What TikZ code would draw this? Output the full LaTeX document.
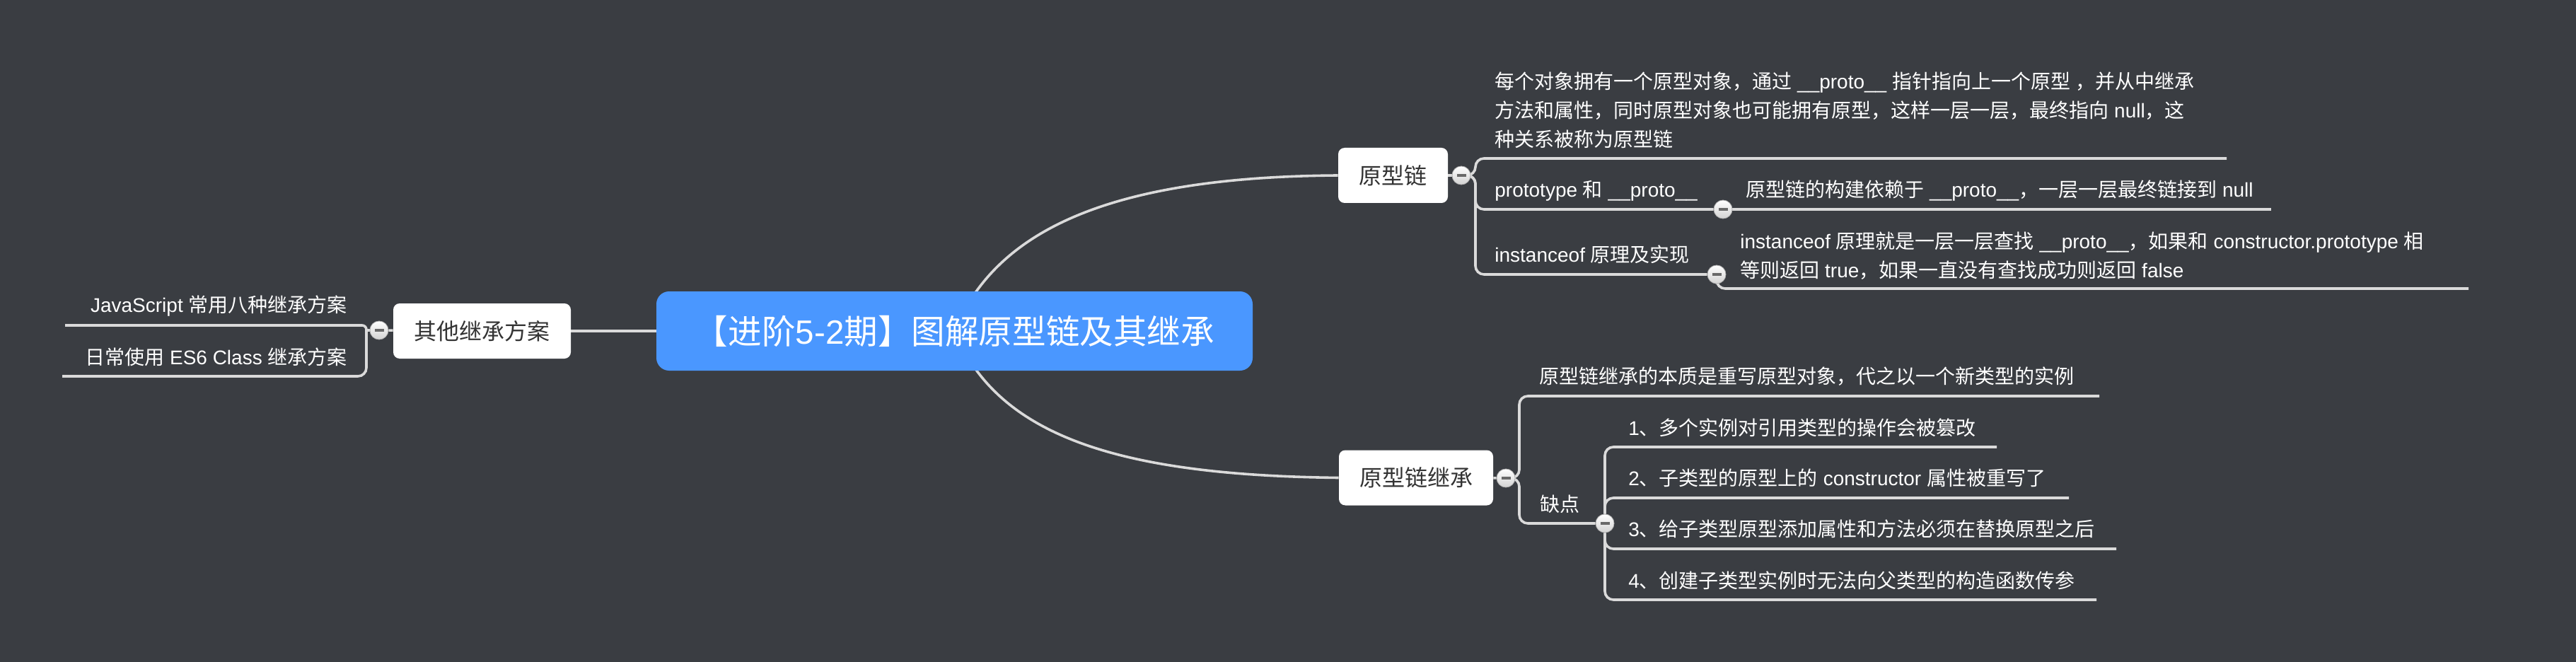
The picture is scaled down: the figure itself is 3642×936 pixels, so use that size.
\documentclass[tikz,border=0pt]{standalone}
\usepackage{fontspec}
\setmainfont{Liberation Sans}
\newfontfamily\cjkfont{Noto Sans CJK SC}
% switch to the CJK face for Chinese characters and punctuation
\XeTeXinterchartokenstate=1
\newcount\cjkcnt
\def\cjkrange#1#2{\cjkcnt=#1\relax
  \loop\XeTeXcharclass\cjkcnt=1\relax\advance\cjkcnt by 1\relax
  \ifnum\cjkcnt<#2\repeat}
\cjkrange{"3000}{"3040}
\cjkrange{"4E00}{"A000}
\cjkrange{"FF00}{"FFF0}
\XeTeXinterchartoks 0 1 = {\cjkfont}
\XeTeXinterchartoks 4095 1 = {\cjkfont}
\XeTeXinterchartoks 1 0 = {\rmfamily}
\XeTeXinterchartoks 1 4095 = {\rmfamily}

\definecolor{bgdark}{RGB}{58,61,66}
\definecolor{rootblue}{RGB}{74,151,255}
\definecolor{linegray}{RGB}{218,218,218}
\definecolor{boxtext}{RGB}{51,51,51}
\definecolor{minusgray}{RGB}{105,105,105}

\pgfdeclarelayer{bg}
\pgfdeclarelayer{lines}
\pgfsetlayers{bg,lines,main}

\tikzset{
  conn/.style={draw=linegray, line width=1.8pt, rounded corners=6pt},
  rootbox/.style={rectangle, rounded corners=9pt, fill=rootblue, text=white,
    minimum width=421.5pt, minimum height=56pt, inner sep=0pt,
    font=\fontsize{23.8pt}{28pt}\selectfont},
  topicbox/.style={rectangle, rounded corners=4.5pt, fill=white, text=boxtext,
    minimum height=39pt, inner sep=0pt, font=\fontsize{16pt}{20pt}\selectfont},
  leaf/.style={anchor=west, inner sep=0pt, text=white, align=left,
    font=\fontsize{14pt}{20.5pt}\selectfont},
  leafleft/.style={leaf, anchor=east, align=right},
  collapse/.style={circle, minimum size=13pt, inner sep=0pt,
    draw=gray!60, line width=0.4pt, top color=white, bottom color=gray!35,
    path picture={\fill[minusgray]
      ([xshift=-3.25pt,yshift=-0.85pt]path picture bounding box.center) rectangle
      ([xshift=3.25pt,yshift=0.85pt]path picture bounding box.center);}},
}

\begin{document}
\begin{tikzpicture}[x=0.5pt,y=0.5pt,yscale=-1,xscale=1]
\begin{pgfonlayer}{bg}
\fill[bgdark] (0,0) rectangle (3642,936);
\end{pgfonlayer}

% Topic boxes
\node[rootbox] (root) at (1349.5,468) {【进阶5-2期】图解原型链及其继承};
\node[topicbox, minimum width=77.5pt] (chain) at (1969.5,248) {原型链};
\node[topicbox, minimum width=109pt] (inherit) at (2002,675.5) {原型链继承};
\node[topicbox, minimum width=125.5pt] (other) at (681.5,468) {其他继承方案};

% Collapse buttons
\node[collapse] (chainc) at (2066,248) {};
\node[collapse] (inheritc) at (2129,676) {};
\node[collapse] (otherc) at (536,467) {};
\node[collapse] (ptc) at (2436,296) {};
\node[collapse] (ioc) at (2427,388) {};
\node[collapse] (flawc) at (2269,740) {};

% Text Node
\node[leaf] (desc) at (2113,156) {每个对象拥有一个原型对象，通过 \_\_proto\_\_ 指针指向上一个原型 ，并从中继承\\方法和属性，同时原型对象也可能拥有原型，这样一层一层，最终指向 null，这\\种关系被称为原型链};
\node[leaf] (pt) at (2113,270) {prototype 和 \_\_proto\_\_};
\node[leaf] (build) at (2468,270) {原型链的构建依赖于 \_\_proto\_\_，一层一层最终链接到 null};
\node[leaf] (io) at (2113,360) {instanceof 原理及实现};
\node[leaf] (iod) at (2460,362) {instanceof 原理就是一层一层查找 \_\_proto\_\_，如果和 constructor.prototype 相\\等则返回 true，如果一直没有查找成功则返回 false};
% Text Node
\node[leaf] (ess) at (2176,532) {原型链继承的本质是重写原型对象，代之以一个新类型的实例};
\node[leaf] (flaw) at (2177,713) {缺点};
\node[leaf] (f1) at (2302,605) {1、多个实例对引用类型的操作会被篡改};
\node[leaf] (f2) at (2302,676) {2、子类型的原型上的 constructor 属性被重写了};
\node[leaf] (f3) at (2302,748) {3、给子类型原型添加属性和方法必须在替换原型之后};
\node[leaf] (f4) at (2302,821) {4、创建子类型实例时无法向父类型的构造函数传参};
% Text Node
\node[leafleft] (js) at (491,433) {JavaScript 常用八种继承方案};
\node[leafleft] (es6) at (491,505) {日常使用 ES6 Class 继承方案};

% Trunks and underline ends
\coordinate (chaint) at (2086,248);
\coordinate (inheritt) at (2148,676);
\coordinate (othert) at (518,467);
\coordinate (descu) at (3148,224);
\coordinate (buildu) at (3211,296);
\coordinate (iodu) at (3490,408);
\coordinate (essu) at (2968,560);
\coordinate (f1u) at (2823,632);
\coordinate (f2u) at (2925,704);
\coordinate (f3u) at (2992,776);
\coordinate (f4u) at (2964,848);
\coordinate (jsu) at (92,460);
\coordinate (es6u) at (88,532);

\begin{pgfonlayer}{lines}
%Curve Lines
\draw[conn] (root.center) .. controls (1410,320) and (1580,250) .. (chain.west);
\draw[conn] (root.center) .. controls (1410,616) and (1580,672) .. (inherit.west);
%Straight Lines
\draw[conn] (root) -- (other);
\draw[conn] (other) -- (otherc);
\draw[conn] (otherc) -- (othert);
\draw[conn, rounded corners=3pt] (othert) |- (jsu);
\draw[conn] (othert) |- (es6u);
% 原型链
\draw[conn] (chain) -- (chainc);
\draw[conn] (chainc) -- (chaint) |- (descu);
\draw[conn] (chainc) -- (chaint) |- (ptc);
\draw[conn] (chainc) -- (chaint) |- (ioc);
\draw[conn] (ptc) -- (buildu);
\draw[conn] (ioc) |- (iodu);
% 原型链继承
\draw[conn] (inherit) -- (inheritc);
\draw[conn] (inheritc) -- (inheritt) |- (essu);
\draw[conn] (inheritc) -- (inheritt) |- (flawc);
\draw[conn] (flawc) |- (f1u);
\draw[conn] (flawc) |- (f2u);
\draw[conn] (flawc) |- (f3u);
\draw[conn] (flawc) |- (f4u);
\end{pgfonlayer}

\end{tikzpicture}
\end{document}
